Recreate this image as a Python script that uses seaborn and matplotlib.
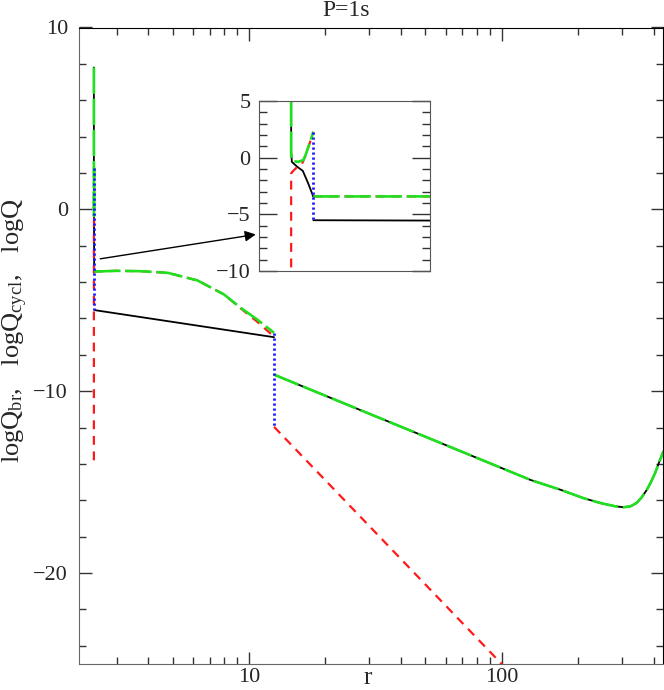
import numpy as np
import matplotlib
matplotlib.use("Agg")
from matplotlib import pyplot as plt
from matplotlib import ticker
import seaborn as sns

# log Q_br  (black, solid) -- three pieces
br_spike_r = [2.4394, 2.4394, 2.4396, 2.4412, 2.4428, 2.4444, 2.4459]
br_spike_q = [7.8, 0.6, -0.37, -0.81, -1.16, -2.28, -3.46]
br_mid_r = [2.4459, 2.48, 12.59]
br_mid_q = [-5.52, -5.55, -7.03]
br_out_r = [12.59, 68.9, 130.2, 171.1, 210.9, 246.2, 282.2, 303.5, 323.6, 341.7,
            357.6, 374.3, 388.1, 406.2, 421.3, 436.8]
br_out_q = [-9.09, -13.3, -14.88, -15.42, -15.88, -16.15, -16.33, -16.38, -16.33, -16.15,
            -15.85, -15.45, -15.05, -14.45, -13.85, -13.3]

# log Q_cycl (red, dashed)
cyc_spike_r = [2.4394, 2.4394, 2.4399, 2.4410, 2.4425, 2.4437, 2.4459]
cyc_spike_q = [-13.8, -1.4, -1.2, -0.87, -0.6, 0.25, 2.28]
cyc_mid_r = [2.4459, 3.0, 3.74, 4.78, 6.27, 7.98, 9.30, 10.8, 12.59]
cyc_mid_q = [-3.42, -3.38, -3.40, -3.49, -3.91, -4.68, -5.45, -6.18, -7.0]
cyc_out_r = [12.59, 105]
cyc_out_q = [-11.96, -25.3]

# log Q total (green, long dash)
tot_spike_r = [2.4394, 2.4394, 2.4400, 2.4415, 2.4430, 2.4437, 2.4459]
tot_spike_q = [7.8, 0.2, -0.31, -0.37, -0.2, 0.3, 2.28]
tot_mid_r = [2.4459, 3.0, 3.74, 4.78, 6.27, 7.98, 9.30, 10.8, 12.59]
tot_mid_q = [-3.42, -3.38, -3.40, -3.49, -3.91, -4.68, -5.42, -6.06, -6.79]
tot_out_r = br_out_r
tot_out_q = br_out_q

# jumps (blue, dotted)
jump1_r = [2.4459, 2.4459]
jump1_q = [2.28, -5.52]
jump2_r = [12.59, 12.59]
jump2_q = [-6.79, -11.96]

x_major = [10, 100]
x_minor = [3, 4, 5, 6, 7, 8, 9, 20, 30, 40, 50, 60, 70, 80, 90, 200, 300, 400]

sns.set_style("ticks")
plt.rcParams["font.family"] = ["Liberation Serif", "DejaVu Serif"]
plt.rcParams["mathtext.fontset"] = "custom"
plt.rcParams["mathtext.rm"] = "Liberation Serif"
plt.rcParams["font.size"] = 16

BLACK = dict(color="black", lw=1.3, linestyle="-")
RED = dict(color="#ff1a1a", lw=1.6, linestyle=(0, (4, 3)))
GREEN = dict(color="#1fe01f", lw=1.9, linestyle=(0, (10, 1.8)))
BLUE = dict(color="#1a1aff", lw=2.0, linestyle=(0, (0.8, 1.0)))


def seg(ax, x, y, style):
    sns.lineplot(x=x, y=y, ax=ax, sort=False, estimator=None, **style)


def draw_all(ax):
    for x, y in [(br_spike_r, br_spike_q), (br_mid_r, br_mid_q), (br_out_r, br_out_q)]:
        seg(ax, x, y, BLACK)
    for x, y in [(cyc_spike_r, cyc_spike_q), (cyc_mid_r, cyc_mid_q), (cyc_out_r, cyc_out_q)]:
        seg(ax, x, y, RED)
    for x, y in [(tot_spike_r, tot_spike_q), (tot_mid_r, tot_mid_q), (tot_out_r, tot_out_q)]:
        seg(ax, x, y, GREEN)
    for x, y in [(jump1_r, jump1_q), (jump2_r, jump2_q)]:
        seg(ax, x, y, BLUE)


fig = plt.figure(figsize=(6.64, 6.90), dpi=100)
ax = fig.add_axes([79 / 664, 26 / 690, 584 / 664, 636.5 / 690])
ax.set_xscale("log")
draw_all(ax)
ax.set_xlim(2.13, 435)
ax.set_ylim(-25, 10)
ax.xaxis.set_major_locator(ticker.FixedLocator(x_major))
ax.xaxis.set_major_formatter(ticker.FixedFormatter([str(v) for v in x_major]))
ax.xaxis.set_minor_locator(ticker.FixedLocator(x_minor))
ax.xaxis.set_minor_formatter(ticker.NullFormatter())
ax.yaxis.set_major_locator(ticker.MultipleLocator(10))
ax.yaxis.set_minor_locator(ticker.MultipleLocator(2))
ax.tick_params(which="both", direction="in", top=True, right=True, color="#333333")
ax.tick_params(which="major", length=9, width=1, pad=8)
ax.tick_params(axis="x", which="major", pad=3)
ax.tick_params(which="minor", length=5, width=1)
for side in ["left", "bottom"]:
    ax.spines[side].set_color("#666666")
for side in ["top", "right"]:
    ax.spines[side].set_color("black")
ax.set_xlabel("")
ax.set_ylabel("")

ax.annotate("", xy=(10.66, -1.38), xytext=(2.584, -2.72),
            arrowprops=dict(arrowstyle="-|>", color="black", lw=1.0, mutation_scale=16,
                            shrinkA=0, shrinkB=0))

# inset
ins = fig.add_axes([259 / 664, (690 - 271) / 690, 171 / 664, 170 / 690])
draw_all(ins)
ins.set_xlim(2.43, 2.48)
ins.set_ylim(-10, 5)
ins.set_xticks([])
ins.yaxis.set_major_locator(ticker.MultipleLocator(5))
ins.yaxis.set_minor_locator(ticker.MultipleLocator(1))
ins.tick_params(axis="y", which="both", direction="in", right=True, color="#333333")
ins.tick_params(axis="y", which="major", length=13, width=1, pad=6)
ins.tick_params(axis="y", which="minor", length=6, width=1)
for side in ins.spines:
    ins.spines[side].set_color("#555555")
ins.set_xlabel("")
ins.set_ylabel("")

fig.text(346 / 664, 1 - 11 / 690, "P=1s", ha="center", va="center", fontsize=17)
fig.text(368 / 664, 1 - 678 / 690, "r", ha="center", va="center", fontsize=18)
fig.text(15 / 664, 1 - 330 / 690,
         r"$\mathrm{logQ_{br},\ \ logQ_{cycl},\ \ logQ}$",
         ha="center", va="center", rotation=90, fontsize=19)

fig.savefig("out.png", dpi=100)
